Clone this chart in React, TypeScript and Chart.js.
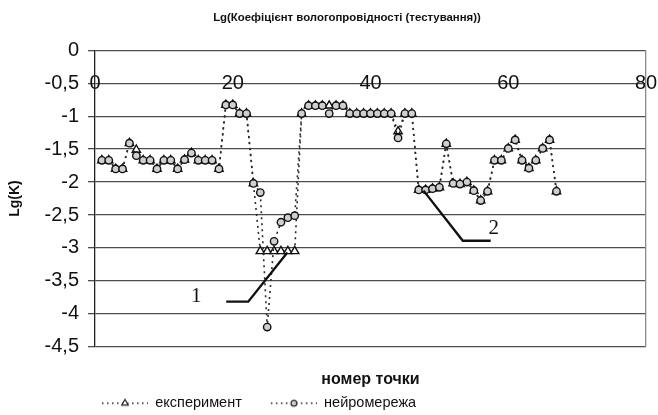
import React, { useEffect, useRef } from 'react';
import { Chart, registerables } from 'chart.js';

Chart.register(...registerables);

// ---------- data ----------
const pointNumbers = [
  1, 2, 3, 4, 5, 6, 7, 8, 9, 10,
  11, 12, 13, 14, 15, 16, 17, 18, 19, 20,
  21, 22, 23, 24, 25, 26, 27, 28, 29, 30,
  31, 32, 33, 34, 35, 36, 37, 38, 39, 40,
  41, 42, 43, 44, 45, 46, 47, 48, 49, 50,
  51, 52, 53, 54, 55, 56, 57, 58, 59, 60,
  61, 62, 63, 64, 65, 66, 67,
];

const experiment = [
  -1.67, -1.67, -1.8, -1.8, -1.41, -1.51, -1.67, -1.67, -1.8, -1.67,
  -1.67, -1.8, -1.66, -1.56, -1.67, -1.67, -1.67, -1.8, -0.83, -0.83,
  -0.96, -0.96, -2.02, -3.05, -3.05, -3.05, -3.05, -3.05, -3.05, -0.96,
  -0.84, -0.84, -0.84, -0.84, -0.84, -0.84, -0.96, -0.96, -0.96, -0.96,
  -0.96, -0.96, -0.96, -1.23, -0.96, -0.96, -2.12, -2.12, -2.1, -2.08,
  -1.42, -2.02, -2.03, -2.0, -2.13, -2.28, -2.14, -1.67, -1.67, -1.49,
  -1.36, -1.67, -1.79, -1.67, -1.49, -1.36, -2.14,
];

const neuralNet = [
  -1.67, -1.67, -1.8, -1.8, -1.41, -1.6, -1.67, -1.67, -1.8, -1.67,
  -1.67, -1.8, -1.66, -1.56, -1.67, -1.67, -1.67, -1.8, -0.83, -0.83,
  -0.96, -0.96, -2.02, -2.16, -4.2, -2.9, -2.61, -2.54, -2.51, -0.96,
  -0.84, -0.84, -0.84, -0.96, -0.84, -0.84, -0.96, -0.96, -0.96, -0.96,
  -0.96, -0.96, -0.96, -1.33, -0.96, -0.96, -2.12, -2.12, -2.1, -2.08,
  -1.42, -2.02, -2.03, -2.0, -2.13, -2.28, -2.14, -1.67, -1.67, -1.49,
  -1.36, -1.67, -1.79, -1.67, -1.49, -1.36, -2.14,
];

const seriesLabels = ['експеримент', 'нейромережа'];
const chartTitle = 'Lg(Коефіцієнт вологопровідності (тестування))';
const xTitle = 'номер точки';
const yTitle = 'Lg(K)';

const xMin = 0;
const xMax = 80;
const xStep = 20;
const yMin = -4.5;
const yMax = 0;
const yStep = 0.5;

// callout leader lines (data coordinates) and their labels
const callout1 = [
  { x: 19.05, y: -3.815 },
  { x: 22.25, y: -3.815 },
  { x: 27.93, y: -3.07 },
];
const callout2 = [
  { x: 47.7, y: -2.13 },
  { x: 53.4, y: -2.89 },
  { x: 57.45, y: -2.89 },
];
const calloutLabels = [
  { text: '1', x: 14.7, y: -3.74 },
  { text: '2', x: 57.9, y: -2.7 },
];

// ---------- styles / layout ----------
const SANS = '"Liberation Sans", Arial, sans-serif';
const SERIF = '"Liberation Serif", "Times New Roman", serif';
const INK = '#111';
const GRID = '#4d4d4d';
const LEGEND_START = 78;
const TITLE_SHIFT = 18;

function makeSymbol(kind: 'triangle' | 'circle'): HTMLCanvasElement {
  const c = document.createElement('canvas');
  c.width = 70;
  c.height = 12;
  const ctx = c.getContext('2d')!;
  ctx.strokeStyle = '#222';
  ctx.lineWidth = 1.5;
  ctx.setLineDash([1.5, 3.5]);
  ctx.beginPath();
  ctx.moveTo(24, 6);
  ctx.lineTo(70, 6);
  ctx.stroke();
  ctx.setLineDash([]);
  ctx.lineWidth = 1.2;
  const cx = 47;
  const cy = 6;
  ctx.beginPath();
  if (kind === 'triangle') {
    const r = 3.8;
    ctx.moveTo(cx, cy - r);
    ctx.lineTo(cx + r * 0.866, cy + r * 0.5);
    ctx.lineTo(cx - r * 0.866, cy + r * 0.5);
    ctx.closePath();
    ctx.fillStyle = '#fff';
  } else {
    ctx.arc(cx, cy, 2.9, 0, Math.PI * 2);
    ctx.fillStyle = '#d0d0d0';
  }
  ctx.fill();
  ctx.stroke();
  return c;
}

const shiftPlugin = {
  id: 'shiftBoxes',
  afterUpdate(chart: any) {
    const lg = chart.legend;
    if (lg) {
      const w = lg.right - lg.left;
      lg.left = LEGEND_START - lg.options.labels.padding;
      lg.right = lg.left + w;
    }
    const t = chart.titleBlock;
    if (t) {
      t.left = TITLE_SHIFT;
      t.right = chart.width + TITLE_SHIFT;
    }
  },
};

const calloutPlugin = {
  id: 'callouts',
  afterDatasetsDraw(chart: any) {
    const { ctx, scales } = chart;
    const xs = scales.x;
    const ys = scales.y;
    ctx.save();
    ctx.strokeStyle = '#111';
    ctx.lineWidth = 2.4;
    [callout1, callout2].forEach((path) => {
      ctx.beginPath();
      path.forEach((p, i) => {
        const px = xs.getPixelForValue(p.x);
        const py = ys.getPixelForValue(p.y);
        if (i === 0) ctx.moveTo(px, py);
        else ctx.lineTo(px, py);
      });
      ctx.stroke();
    });
    ctx.fillStyle = '#111';
    ctx.font = `21px ${SERIF}`;
    ctx.textAlign = 'center';
    ctx.textBaseline = 'middle';
    calloutLabels.forEach((l) => {
      ctx.fillText(l.text, xs.getPixelForValue(l.x), ys.getPixelForValue(l.y));
    });
    ctx.restore();
  },
};

const fmt = (v: number) => String(v).replace('.', ',');

export default function App() {
  const ref = useRef<HTMLCanvasElement>(null);

  useEffect(() => {
    const canvas = ref.current;
    if (!canvas) return;
    Chart.defaults.font.family = SANS;
    Chart.defaults.color = INK;
    const triSym = makeSymbol('triangle');
    const circSym = makeSymbol('circle');

    const lineStyle = {
      showLine: true,
      fill: false,
      tension: 0,
      borderColor: '#2a2a2a',
      borderWidth: 1.6,
      borderDash: [2, 4],
      pointBorderColor: '#111',
      pointBorderWidth: 1.4,
    };

    const chart = new Chart(canvas, {
      type: 'line',
      data: {
        datasets: [
          {
            ...lineStyle,
            label: seriesLabels[0],
            data: pointNumbers.map((x, i) => ({ x, y: experiment[i] })),
            pointStyle: 'triangle',
            pointRadius: 4.8,
            pointBackgroundColor: '#fff',
            order: 1,
          },
          {
            ...lineStyle,
            label: seriesLabels[1],
            data: pointNumbers.map((x, i) => ({ x, y: neuralNet[i] })),
            pointStyle: 'circle',
            pointRadius: 3.7,
            pointBackgroundColor: '#cfcfcf',
            order: 0,
          },
        ],
      },
      options: {
        animation: false,
        responsive: true,
        maintainAspectRatio: false,
        layout: { padding: { left: 3, right: 12, top: 0, bottom: 0 } },
        scales: {
          x: {
            type: 'linear',
            position: 'bottom',
            min: xMin,
            max: xMax,
            ticks: { display: false, stepSize: xStep },
            grid: { display: false, drawTicks: false },
            border: { display: false },
            title: {
              display: true,
              text: xTitle,
              font: { size: 16, weight: 'bold' },
              color: INK,
              padding: { top: 23, bottom: 2 },
            },
          },
          x2: {
            type: 'linear',
            axis: 'x',
            position: { y: -0.5 },
            min: xMin,
            max: xMax,
            ticks: {
              stepSize: xStep,
              autoSkip: false,
              maxRotation: 0,
              font: { size: 20 },
              color: INK,
              padding: -12,
            },
            grid: { display: false, drawTicks: false },
            border: { display: false },
          },
          y: {
            type: 'linear',
            position: 'left',
            min: yMin,
            max: yMax,
            ticks: {
              stepSize: yStep,
              autoSkip: false,
              font: { size: 20 },
              color: INK,
              padding: 9,
              callback: (v: any) => fmt(Number(v)),
            },
            grid: { color: GRID, lineWidth: 1.3, tickLength: 7 },
            border: { color: '#222', width: 1.3 },
            title: {
              display: true,
              text: yTitle,
              font: { size: 14, weight: 'bold' },
              color: INK,
              padding: { top: 4, bottom: 4 },
            },
            afterFit: (s: any) => {
              s.width = 92;
            },
          },
          y2: {
            type: 'linear',
            position: 'right',
            min: yMin,
            max: yMax,
            ticks: { display: false },
            grid: { display: false, drawTicks: false },
            border: { display: true, color: '#8a8a8a', width: 1.3 },
          },
        },
        plugins: {
          title: {
            display: true,
            text: chartTitle,
            font: { size: 11.4, weight: 'bold' },
            color: INK,
            padding: { top: 10.6, bottom: 26 },
          },
          legend: {
            display: true,
            position: 'bottom',
            align: 'start',
            maxHeight: 24,
            labels: {
              usePointStyle: true,
              pointStyleWidth: 70,
              padding: 5,
              font: { size: 14.5 },
              color: INK,
              generateLabels: () => [
                {
                  text: seriesLabels[0],
                  pointStyle: triSym,
                  datasetIndex: 0,
                  fillStyle: 'transparent',
                  strokeStyle: 'transparent',
                  lineWidth: 0,
                  hidden: false,
                  fontColor: INK,
                },
                {
                  text: seriesLabels[1],
                  pointStyle: circSym,
                  datasetIndex: 1,
                  fillStyle: 'transparent',
                  strokeStyle: 'transparent',
                  lineWidth: 0,
                  hidden: false,
                  fontColor: INK,
                },
              ],
            },
          },
          tooltip: { enabled: false },
        },
      },
      plugins: [shiftPlugin, calloutPlugin],
    } as any);

    return () => chart.destroy();
  }, []);

  return (
    <div style={{ position: 'fixed', left: 0, top: 0, width: 658, height: 415, background: '#fff' }}>
      <canvas ref={ref} />
    </div>
  );
}
